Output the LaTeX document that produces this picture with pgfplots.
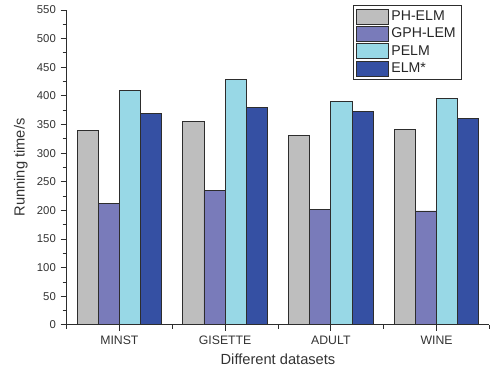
\documentclass[border=0pt]{standalone}
\usepackage{fontspec}
\setmainfont{Liberation Sans}
\usepackage{pgfplots}
\pgfplotsset{compat=1.18}
\definecolor{cPH}{RGB}{190,190,190}
\definecolor{cGPH}{RGB}{121,123,186}
\definecolor{cPELM}{RGB}{152,216,230}
\definecolor{cELM}{RGB}{53,80,163}
\definecolor{edge}{RGB}{45,45,45}
\begin{document}
\begin{tikzpicture}
\begin{axis}[
  scale only axis, width=317.25pt, height=236.25pt,
  axis x line*=bottom, axis y line*=left,
  axis line style={draw=edge, line width=0.8pt},
  ymin=0, ymax=550, ytick distance=50, minor y tick num=1,
  xmin=-0.5, xmax=3.5, xtick={0,1,2,3},
  xticklabels={MINST,GISETTE,ADULT,WINE},
  minor xtick={-0.5,0.5,1.5,2.5,3.5},
  tick align=outside, major tick length=4.5pt, minor tick length=3pt,
  tick style={draw=edge, line width=0.7pt},
  yticklabel style={font=\fontsize{8.5}{10}\selectfont, text=black!80},
  xticklabel style={font=\fontsize{9.2}{10}\selectfont, text=black!80},
  /pgf/number format/assume math mode=true,
  ylabel={Running time/s}, xlabel={Different datasets},
  label style={font=\fontsize{11}{13}\selectfont, text=black!80},
  ybar, bar width=0.2,
  legend style={at={(0.677,1.016)}, anchor=north west, draw=edge, line width=0.6pt,
    font=\fontsize{10.6}{11.5}\selectfont, row sep=0.2pt, inner sep=2pt, text=black!85},
  legend cell align=left,
  legend image code/.code={\draw[#1, line width=0.6pt] (0pt,-5.6pt) rectangle (24pt,5.6pt);},
  every axis plot/.append style={draw=edge, line width=0.7pt},
]
\addplot[fill=cPH, bar shift=-0.3] coordinates {(0,340) (1,355) (2,331) (3,342)};
\addplot[fill=cGPH, bar shift=-0.1] coordinates {(0,212) (1,234) (2,201) (3,199)};
\addplot[fill=cPELM, bar shift=0.1] coordinates {(0,410) (1,428) (2,391) (3,395)};
\addplot[fill=cELM, bar shift=0.3] coordinates {(0,370) (1,380) (2,372) (3,361)};
\legend{PH-ELM,GPH-LEM,PELM,ELM*}
\end{axis}
\pgfresetboundingbox
\useasboundingbox ([shift={(-49.9pt,-37.5pt)}]current axis.south west) rectangle ([shift={(0.4pt,7.5pt)}]current axis.north east);
\end{tikzpicture}
\end{document}
